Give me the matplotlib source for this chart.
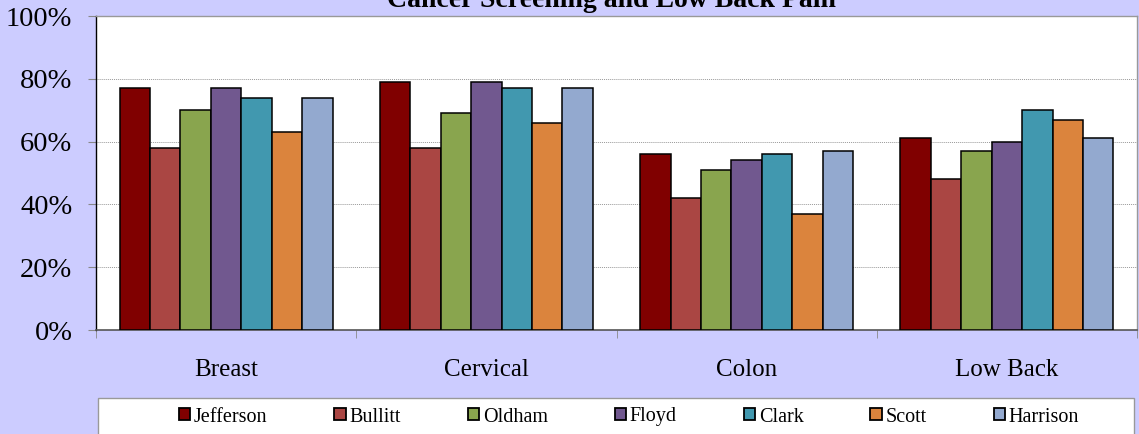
import matplotlib
matplotlib.use("Agg")
import matplotlib.pyplot as plt
import numpy as np
from matplotlib.ticker import FixedLocator, FuncFormatter
from matplotlib.patches import Rectangle

categories = ["Breast", "Cervical", "Colon", "Low Back"]
series_names = ["Jefferson", "Bullitt", "Oldham", "Floyd", "Clark", "Scott", "Harrison"]
jefferson = [77, 79, 56, 61]
bullitt = [58, 58, 42, 48]
oldham = [70, 69, 51, 57]
floyd = [77, 79, 54, 60]
clark = [74, 77, 56, 70]
scott = [63, 66, 37, 67]
harrison = [74, 77, 57, 61]
values = [jefferson, bullitt, oldham, floyd, clark, scott, harrison]
colors = ["#800000", "#AA4643", "#89A54E", "#71588F", "#4198AF", "#DB843D", "#93A9CF"]
title = "Cancer Screening and Low Back Pain"

plt.rcParams['font.family'] = ['Liberation Serif', 'DejaVu Serif']

W, H = 1139, 434
fig = plt.figure(figsize=(W/100, H/100), dpi=100)
fig.patch.set_facecolor("#CCCCFF")
ax = fig.add_axes([96/W, 1-330/H, (1137-96)/W, (330-16)/H])
ax.set_facecolor("white")

x = np.arange(len(categories))
bw = 0.117
n = len(series_names)
for i, (name, vals, c) in enumerate(zip(series_names, values, colors)):
    ax.bar(x + (i - (n-1)/2)*bw, vals, width=bw, color=c, edgecolor="black",
           linewidth=1.1, label=name, zorder=3)

ax.set_xlim(-0.5, len(categories)-0.5)
ax.set_ylim(0, 100)
ax.set_yticks([0, 20, 40, 60, 80, 100])
ax.yaxis.set_major_formatter(FuncFormatter(lambda v, p: f"{int(v)}%"))
ax.yaxis.grid(True, color="#999999", linestyle=(0, (1, 1)), linewidth=0.7, zorder=0)
ax.set_xticks(x)
ax.set_xticklabels(categories)
ax.xaxis.set_minor_locator(FixedLocator(np.arange(-0.5, len(categories), 1.0)))
ax.tick_params(axis='x', which='major', length=0, pad=21, labelsize=18)
ax.tick_params(axis='x', which='minor', length=6, color="#888888", direction='out')
ax.tick_params(axis='y', length=6, color="#888888", pad=11, labelsize=20.5)
for s in ["top", "right"]:
    ax.spines[s].set_color("#999999")
    ax.spines[s].set_linewidth(1.0)
ax.spines["left"].set_color("black")
ax.spines["left"].set_linewidth(1.0)
ax.spines["bottom"].set_color("#555555")
ax.spines["bottom"].set_linewidth(1.2)

fig.text(611/W, 1-7/H, title, ha="center", va="baseline", fontsize=20, fontweight="bold")

# legend box
fig.patches.append(Rectangle((98/W, -0.05), (1134-98)/W, (1-398/H)+0.05,
                             transform=fig.transFigure, facecolor="white",
                             edgecolor="#999999", linewidth=1.0, zorder=1))

leg = fig.legend(loc="center left", bbox_to_anchor=(179/W, 1-417/H),
                 ncol=7, frameon=False,
                 fontsize=14.5, handlelength=0.55, handleheight=0.55, handletextpad=0.2,
                 columnspacing=3.32, borderpad=0, borderaxespad=0)
leg.set_zorder(5)
for h in leg.legend_handles:
    h.set_edgecolor("black")
    h.set_linewidth(1.3)

fig.savefig("out.png", dpi=100, facecolor=fig.get_facecolor())
